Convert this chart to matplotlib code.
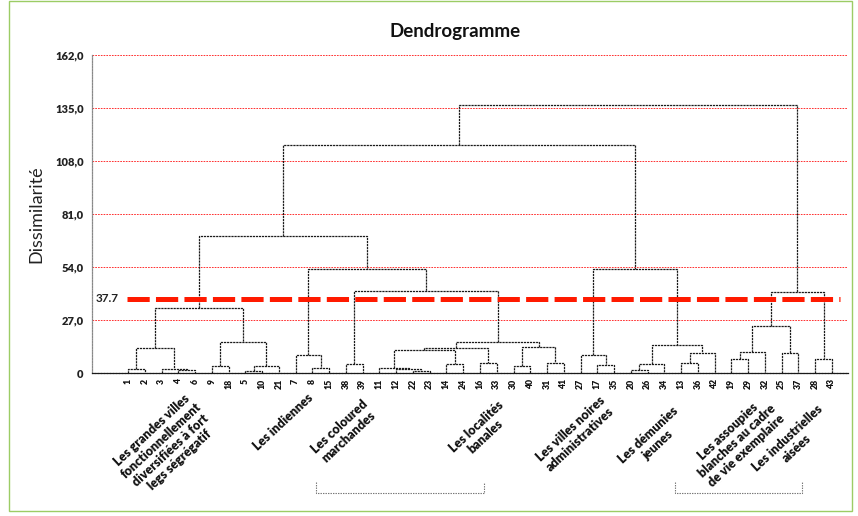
import matplotlib
matplotlib.use("Agg")
import matplotlib.pyplot as plt
from matplotlib.lines import Line2D
from matplotlib.patches import Rectangle

plt.rcParams['font.family'] = ['Lato', 'DejaVu Sans']
plt.rcParams['lines.scale_dashes'] = False

# ---------------- data ----------------
leaves = ['1', '2', '3', '4', '6', '9', '18', '5', '10', '21', '7', '8', '15', '38', '39',
          '11', '12', '22', '23', '14', '24', '16', '33', '30', '40', '31', '41', '27', '17',
          '35', '20', '26', '34', '13', '36', '42', '19', '29', '32', '25', '37', '28', '43']

merge_left = ['1', '4', '3', 'm0', '9', '5', 'm5', 'm4', 'm3', '8', '7', '38', '22', '12', '11',
              '14', 'm14', '16', 'm16', '30', '31', 'm19', 'm18', 'm11', 'm10', 'm8', '17', '27',
              '20', 'm28', '13', 'm30', 'm29', 'm27', 'm25', '19', 'm35', '25', 'm36', '28',
              'm38', 'm34']
merge_right = ['2', '6', 'm1', 'm2', '18', '10', '21', 'm6', 'm7', '15', 'm9', '39', '23', 'm12',
               'm13', '24', 'm15', '33', 'm17', '40', '41', 'm20', 'm21', 'm22', 'm23', 'm24',
               '35', 'm26', '26', '34', '36', '42', 'm31', 'm32', 'm33', '29', '32', '37', 'm37',
               '43', 'm39', 'm40']
merge_height = [1.9, 1.4, 2.0, 12.6, 3.6, 1.2, 3.6, 15.6, 33.0, 2.4, 9.2, 4.6, 0.8, 1.8, 2.8,
                4.6, 11.7, 5.2, 12.6, 3.6, 5.2, 13.4, 16.0, 41.8, 53.0, 69.8, 4.1, 9.2, 1.5, 4.6,
                5.2, 10.2, 14.3, 52.8, 116.1, 7.0, 10.9, 10.0, 24.1, 7.0, 41.4, 136.5]

truncation = 37.7
truncation_label = '37.7'
ytick_values = [0, 27, 54, 81, 108, 135, 162]
ytick_labels = ['0', '27,0', '54,0', '81,0', '108,0', '135,0', '162,0']

group_labels = ['Les grandes villes\nfonctionnellement\ndiversifiées à fort\nlegs ségrégatif',
                'Les indiennes',
                'Les coloured\nmarchandes',
                'Les localités\nbanales',
                'Les villes noires\nadministratives',
                'Les démunies\njeunes',
                'Les assoupies\nblanches au cadre\nde vie exemplaire',
                'Les industrielles\naisées']
# block centres in pixels of the 858x516 image
group_centres_px = [(166, 445), (283, 422), (344, 432), (481, 432), (575, 434), (653, 440),
                    (737, 441), (792, 443)]

# ---------------- figure ----------------
W, H = 858, 516
fig = plt.figure(figsize=(W / 100, H / 100), dpi=100)
L, R, T, B = 92, 848, 55, 373
ax = fig.add_axes([L / W, 1 - B / H, (R - L) / W, (B - T) / H])

x_first, x_last = 128, 832
upp = (len(leaves) - 1) / (x_last - x_first)
ax.set_xlim(-(x_first - L) * upp, len(leaves) - 1 + (R - x_last) * upp)
ax.set_ylim(0, 162)

# grid lines
for v in ytick_values[1:]:
    ax.axhline(v, color='#ff3030', lw=0.7, ls=(0, (1.2, 0.8)), zorder=1)

# dendrogram
pos = {lab: (float(i), 0.0) for i, lab in enumerate(leaves)}
line_kw = dict(color='#1a1a1a', lw=0.9, ls=(0, (1.6, 0.6)), zorder=3)
for k, (a, b, h) in enumerate(zip(merge_left, merge_right, merge_height)):
    xa, ha = pos[a]
    xb, hb = pos[b]
    ax.plot([xa, xa, xb, xb], [ha, h, h, hb], **line_kw)
    pos['m%d' % k] = ((xa + xb) / 2, h)

# truncation line
ax.plot([-0.05, 42.45], [truncation, truncation], color='#ff1a00', lw=3.6,
        ls=(0, (16, 4.5)), solid_capstyle='butt', dash_capstyle='butt', zorder=4)
ax.text(-0.55, truncation, truncation_label, ha='right', va='center', fontsize=8.5,
        color='#222222', fontweight='bold')

# axes styling
for s in ['top', 'right']:
    ax.spines[s].set_visible(False)
ax.spines['left'].set_color('#888888')
ax.spines['left'].set_linestyle((0, (1, 1)))
ax.spines['left'].set_linewidth(0.9)
ax.spines['bottom'].set_color('#1a1a1a')
ax.spines['bottom'].set_linestyle((0, (1.6, 0.6)))
ax.spines['bottom'].set_linewidth(0.9)

ax.set_yticks(ytick_values)
ax.set_yticklabels(ytick_labels, fontsize=8, fontweight='heavy', color='#222222')
ax.tick_params(axis='y', length=0, pad=6)
ax.set_xticks(range(len(leaves)))
ax.set_xticklabels(leaves, rotation=90, fontsize=6.3, fontweight='heavy', color='#111111')
ax.tick_params(axis='x', length=0, pad=4)

ax.set_ylabel('Dissimilarité', fontsize=13, color='#222222', labelpad=8)
fig.text(455 / W, 1 - 32 / H, 'Dendrogramme', ha='center', va='center', fontsize=13.5,
         fontweight='bold', color='#111111')

# group labels
for lab, (px, py) in zip(group_labels, group_centres_px):
    fig.text(px / W, 1 - py / H, lab, rotation=43, rotation_mode='anchor', ha='center',
             va='center', multialignment='center', fontsize=9, fontweight='heavy',
             color='#111111', linespacing=1.15)

# brackets under groups
br_kw = dict(color='#777777', lw=0.8, ls=(0, (1, 0.8)), transform=fig.transFigure)
for x0, x1 in [(316, 484), (675, 802)]:
    fig.add_artist(Line2D([x0 / W, x0 / W, x1 / W, x1 / W],
                          [1 - 482 / H, 1 - 493 / H, 1 - 493 / H, 1 - 482 / H], **br_kw))

# frame
fig.add_artist(Rectangle((9 / W, 1 - 511 / H), (852 - 9) / W, (511 - 1) / H, fill=False,
                         edgecolor='#9ccc65', lw=1, transform=fig.transFigure))

fig.savefig('out.png', dpi=100)
